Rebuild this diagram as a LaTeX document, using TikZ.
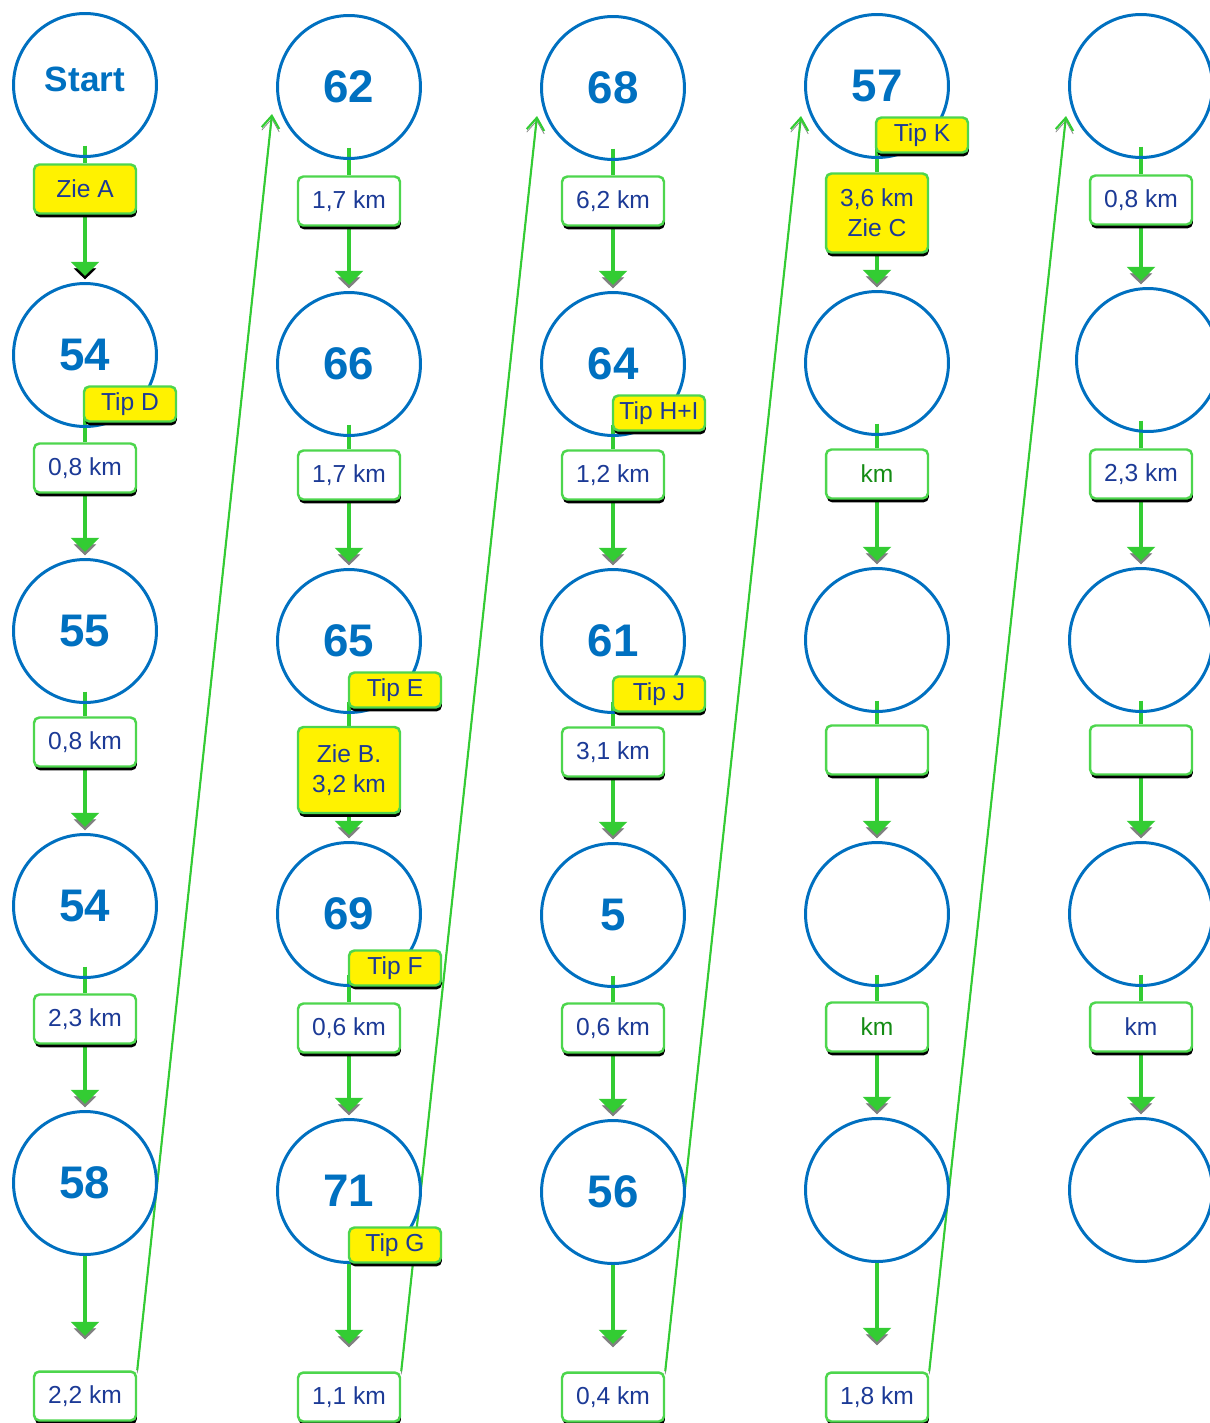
\documentclass[tikz,border=0pt]{standalone}
\usepackage{fontspec}
\setmainfont{Liberation Sans}
\usetikzlibrary{arrows.meta,shadows,backgrounds}

\definecolor{ringblue}{RGB}{0,112,192}
\definecolor{routegreen}{RGB}{51,204,51}
\definecolor{edgegreen}{RGB}{77,214,77}
\definecolor{kmblue}{RGB}{28,58,150}
\definecolor{kmgreen}{RGB}{20,140,20}

\begin{document}
\begin{tikzpicture}[x=0.02cm,y=-0.02cm,
  post/.style={circle,draw=ringblue,line width=1.7pt,minimum size=2.86cm,inner sep=0pt,
    text=ringblue,font=\fontsize{26}{28}\selectfont\bfseries},
  dist/.style={rectangle,rounded corners=3pt,draw=edgegreen,line width=1.4pt,fill=white,
    minimum width=2.04cm,minimum height=0.98cm,inner sep=1pt,align=center,text=kmblue,
    font=\fontsize{14}{17}\selectfont,
    drop shadow={shadow xshift=0.5pt,shadow yshift=-2.2pt,fill=black,opacity=1}},
  hint/.style={dist,fill=yellow},
  tipbox/.style={hint,minimum width=1.84cm,minimum height=0.7cm},
  leg/.style={draw=routegreen,line width=1.8pt},
  walk/.style={leg,shorten >=3.5pt,-{Triangle[width=16pt,length=8pt]},
    preaction={draw=#1,-{Triangle[width=16pt,length=8pt]},transform canvas={yshift=-3pt}}},
  walk/.default=gray,
  crossleg/.style={draw=routegreen,line width=1.2pt,-{Straight Barb[length=7pt,width=10pt]},
    preaction={draw=gray,-{Straight Barb[length=7pt,width=10pt]},transform canvas={yshift=-1.7pt}}}]
\useasboundingbox (0,0) rectangle (1210,1423);

% column 1
\node[post] (c11) at (85,85) {\fontsize{20}{22}\selectfont\raisebox{6pt}{Start}};
\node[post] (c12) at (85,355) {54};
\node[post] (c13) at (85,631) {55};
\node[post] (c14) at (85,906) {54};
\node[post] (c15) at (85,1183) {58};
\node[hint] (z11) at (85,189) {Zie A};
\node[dist] (d12) at (85,468) {0,8 km};
\node[tipbox] (t12) at (130,404) {Tip D};
\node[dist] (d13) at (85,742) {0,8 km};
\node[dist] (d14) at (85,1019) {2,3 km};
\node[dist] (d15) at (85,1396) {2,2 km};
\coordinate (e1) at (85,1342);
\coordinate (s2) at (272,114);

% column 2
\node[post] (c21) at (349,87) {62};
\node[post] (c22) at (349,364) {66};
\node[post] (c23) at (349,641) {65};
\node[post] (c24) at (349,914) {69};
\node[post] (c25) at (349,1191) {71};
\node[dist] (d21) at (349,201) {1,7 km};
\node[dist] (d22) at (349,475) {1,7 km};
\node[tipbox] (t23) at (395,690) {Tip E};
\node[hint,minimum height=1.72cm] (z23) at (349,770) {Zie B.\\3,2 km};
\node[tipbox] (t24) at (395,968) {Tip F};
\node[dist] (d24) at (349,1028) {0,6 km};
\node[tipbox] (t25) at (395,1245) {Tip G};
\node[dist] (d25) at (349,1397) {1,1 km};
\coordinate (e2) at (349,1350);
\coordinate (s3) at (537,116);

% column 3
\node[post] (c31) at (613,88) {68};
\node[post] (c32) at (613,364) {64};
\node[post] (c33) at (613,641) {61};
\node[post] (c34) at (613,915) {5};
\node[post] (c35) at (613,1192) {56};
\node[dist] (d31) at (613,201) {6,2 km};
\node[tipbox] (t32) at (659,413) {Tip H+I};
\node[dist] (d32) at (613,475) {1,2 km};
\node[tipbox] (t33) at (659,694) {Tip J};
\node[dist] (d33) at (613,752) {3,1 km};
\node[dist] (d34) at (613,1028) {0,6 km};
\node[dist] (d35) at (613,1397) {0,4 km};
\coordinate (e3) at (613,1350);
\coordinate (s4) at (801,116);

% column 4
\node[post] (c41) at (877,86) {57};
\node[post] (c42) at (877,363) {};
\node[post] (c43) at (877,640) {};
\node[post] (c44) at (877,914) {};
\node[post] (c45) at (877,1190) {};
\node[tipbox] (t41) at (922,135) {Tip K};
\node[hint,minimum height=1.58cm] (z41) at (877,213) {3,6 km\\Zie C};
\node[dist,text=kmgreen] (d42) at (877,474) {km};
\node[dist] (d43) at (877,750) {};
\node[dist,text=kmgreen] (d44) at (877,1027) {km};
\node[dist] (d45) at (877,1397) {1,8 km};
\coordinate (e4) at (877,1348);
\coordinate (s5) at (1066,116);

% column 5
\node[post] (c51) at (1141,86) {};
\node[post] (c52) at (1148,360) {};
\node[post] (c53) at (1141,640) {};
\node[post] (c54) at (1141,914) {};
\node[post] (c55) at (1141,1190) {};
\node[dist] (d51) at (1141,200) {0,8 km};
\node[dist] (d52) at (1141,474) {2,3 km};
\node[dist] (d53) at (1141,750) {};
\node[dist] (d54) at (1141,1027) {km};

\begin{scope}[on background layer]
\draw[leg] ([yshift=7pt]c11.south) -- (z11.north);
\draw[walk=black] (z11.south) -- (c12.north);
\draw[leg] ([yshift=7pt]c12.south) -- (d12.north);
\draw[walk] (d12.south) -- (c13.north);
\draw[leg] ([yshift=7pt]c13.south) -- (d13.north);
\draw[walk] (d13.south) -- (c14.north);
\draw[leg] ([yshift=7pt]c14.south) -- (d14.north);
\draw[walk] (d14.south) -- (c15.north);
\draw[walk] (c15.south) -- (e1);
\draw[crossleg] (d15.north east) -- (s2);

\draw[leg] ([yshift=7pt]c21.south) -- (d21.north);
\draw[walk] (d21.south) -- (c22.north);
\draw[leg] ([yshift=7pt]c22.south) -- (d22.north);
\draw[walk] (d22.south) -- (c23.north);
\draw[leg] ([yshift=7pt]c23.south) -- (z23.north);
\draw[walk] (z23.south) -- (c24.north);
\draw[leg] ([yshift=7pt]c24.south) -- (d24.north);
\draw[walk] (d24.south) -- (c25.north);
\draw[walk] (c25.south) -- (e2);
\draw[crossleg] (d25.north east) -- (s3);

\draw[leg] ([yshift=7pt]c31.south) -- (d31.north);
\draw[walk] (d31.south) -- (c32.north);
\draw[leg] ([yshift=7pt]c32.south) -- (d32.north);
\draw[walk] (d32.south) -- (c33.north);
\draw[leg] ([yshift=7pt]c33.south) -- (d33.north);
\draw[walk] (d33.south) -- (c34.north);
\draw[leg] ([yshift=7pt]c34.south) -- (d34.north);
\draw[walk] (d34.south) -- (c35.north);
\draw[walk] (c35.south) -- (e3);
\draw[crossleg] (d35.north east) -- (s4);

\draw[leg] ([yshift=7pt]c41.south) -- (z41.north);
\draw[walk] (z41.south) -- (c42.north);
\draw[leg] ([yshift=7pt]c42.south) -- (d42.north);
\draw[walk] (d42.south) -- (c43.north);
\draw[leg] ([yshift=7pt]c43.south) -- (d43.north);
\draw[walk] (d43.south) -- (c44.north);
\draw[leg] ([yshift=7pt]c44.south) -- (d44.north);
\draw[walk] (d44.south) -- (c45.north);
\draw[walk] (c45.south) -- (e4);
\draw[crossleg] (d45.north east) -- (s5);

\draw[leg] ([yshift=7pt]c51.south) -- (d51.north);
\draw[walk] (d51.south) -- (d51 |- c52.north);
\draw[leg] ([yshift=7pt]c52.south -| d52) -- (d52.north);
\draw[walk] (d52.south) -- (c53.north);
\draw[leg] ([yshift=7pt]c53.south) -- (d53.north);
\draw[walk] (d53.south) -- (c54.north);
\draw[leg] ([yshift=7pt]c54.south) -- (d54.north);
\draw[walk] (d54.south) -- (c55.north);
\end{scope}
\end{tikzpicture}
\end{document}
